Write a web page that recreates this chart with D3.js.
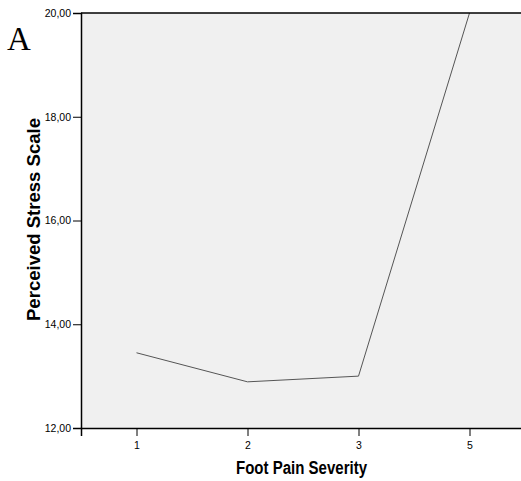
<!DOCTYPE html>
<html>
<head>
<meta charset="utf-8">
<script src="https://cdn.jsdelivr.net/npm/d3@7/dist/d3.min.js"></script>
<style>
  body { margin: 0; background: #fff; }
  svg { display: block; }
</style>
</head>
<body>
<svg width="521" height="481"></svg>
<script>
// values
const painLevels = ["1", "2", "3", "5"];
const stressMeans = [13.45, 12.89, 13.00, 20.00];
const yTicks = [12, 14, 16, 18, 20];

const svg = d3.select("svg");
const margin = {left: 81, top: 13, right: -4, bottom: 53};
const w = 521, h = 481;

const x = d3.scalePoint()
  .domain(painLevels)
  .range([margin.left, w - margin.right])
  .padding(0.5);

const y = d3.scaleLinear()
  .domain([12, 20])
  .range([h - margin.bottom, margin.top]);

// plot background
svg.append("rect")
  .attr("x", margin.left)
  .attr("y", margin.top)
  .attr("width", w - margin.right - margin.left)
  .attr("height", y(12) - y(20))
  .attr("fill", "#f0f0f0");

const line = d3.line()
  .x((d, i) => x(painLevels[i]))
  .y(d => y(d));

svg.append("path")
  .datum(stressMeans)
  .attr("d", line)
  .attr("fill", "none")
  .attr("stroke", "#555")
  .attr("stroke-width", 1);

// top border
svg.append("line")
  .attr("x1", margin.left).attr("x2", w)
  .attr("y1", margin.top).attr("y2", margin.top)
  .attr("stroke", "#000").attr("stroke-width", 1.5);

const xAxis = d3.axisBottom(x).tickSizeOuter(0).tickSize(8).tickPadding(6);
const yAxis = d3.axisLeft(y).tickValues(yTicks).tickSizeOuter(0).tickSize(8).tickPadding(2)
  .tickFormat(d => d3.format(".2f")(d).replace(".", ","));

const gx = svg.append("g")
  .attr("transform", "translate(0," + y(12) + ")")
  .call(xAxis);
const gy = svg.append("g")
  .attr("transform", "translate(" + margin.left + ",0)")
  .call(yAxis);

[gx, gy].forEach(g => {
  g.select(".domain").attr("stroke", "#000").attr("stroke-width", 1.5);
  g.selectAll(".tick line").attr("stroke", "#000");
  g.selectAll("text")
    .attr("fill", "#000")
    .style("font-family", "Arial, 'Liberation Sans', sans-serif")
    .style("font-size", "10.5px");
});

// axis titles
svg.append("text")
  .attr("x", 301.5)
  .attr("y", 474)
  .attr("text-anchor", "middle")
  .attr("textLength", 131)
  .attr("lengthAdjust", "spacingAndGlyphs")
  .style("font-family", "Arial, 'Liberation Sans', sans-serif")
  .style("font-weight", "bold")
  .style("font-size", "18px")
  .text("Foot Pain Severity");

svg.append("text")
  .attr("transform", "translate(40,219.5) rotate(-90)")
  .attr("text-anchor", "middle")
  .attr("textLength", 203)
  .attr("lengthAdjust", "spacingAndGlyphs")
  .style("font-family", "Arial, 'Liberation Sans', sans-serif")
  .style("font-weight", "bold")
  .style("font-size", "19px")
  .text("Perceived Stress Scale");

// panel label
svg.append("text")
  .attr("x", 7)
  .attr("y", 50)
  .style("font-family", "'Liberation Serif', 'Times New Roman', serif")
  .style("font-size", "33px")
  .text("A");
</script>
</body>
</html>
